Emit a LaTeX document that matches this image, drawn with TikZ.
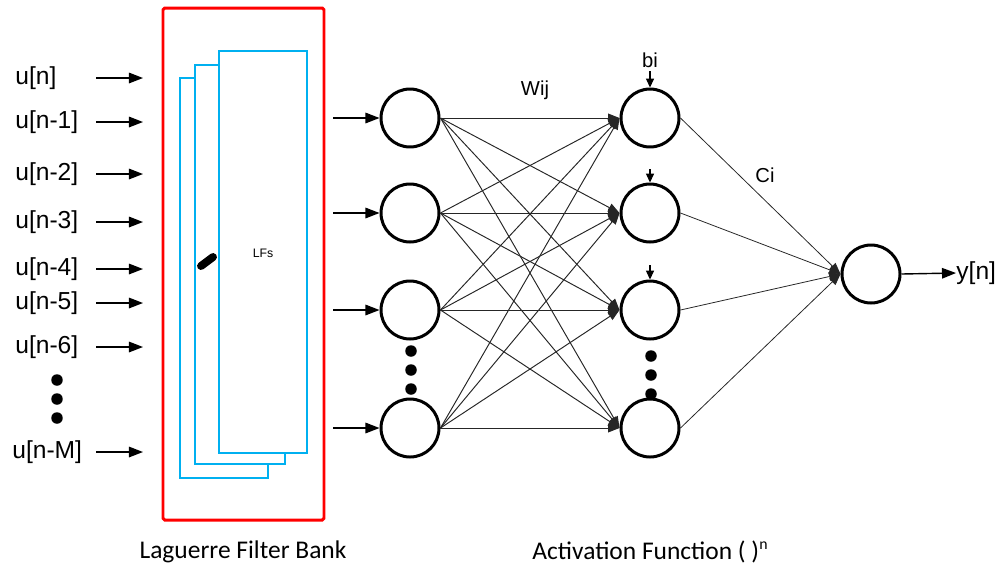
\documentclass[tikz,border=0pt]{standalone}
\usepackage{fontspec}
\setmainfont{Liberation Sans}
\newfontfamily\capfont{Carlito}
\usetikzlibrary{arrows.meta}

\definecolor{bankred}{RGB}{255,0,0}
\definecolor{filterblue}{RGB}{0,176,240}

\begin{document}
\begin{tikzpicture}[x=0.02cm,y=-0.02cm,
  neuron/.style={circle, draw=black, line width=1.7pt, minimum size=1.16cm, inner sep=0pt},
  inlabel/.style={anchor=west, inner sep=0pt, font=\fontsize{14}{16}\selectfont},
  inarrow/.style={line width=0.8pt, -{Triangle[length=8pt,width=6pt]}},
  link/.style={line width=0.55pt, draw=black!85, -{Triangle[length=6.5pt,width=5pt]}},
  biasarrow/.style={line width=0.6pt, -{Triangle[length=5pt,width=4.5pt]}},
  bigdot/.style={circle, fill=black, inner sep=0pt, minimum size=0.23cm},
  filter/.style={draw=filterblue, line width=1.2pt, fill=white},
  caption/.style={font=\capfont\fontsize{14.5}{16}\selectfont, inner sep=0pt},
  smalllabel/.style={font=\fontsize{11.5}{13}\selectfont, inner sep=0pt}]
\useasboundingbox (0,0) rectangle (1003,576);

% Laguerre filter bank
\draw[draw=bankred, line width=1.7pt, rounded corners=1pt] (163,8) rectangle (324,520);
\draw[filter] (180,78) rectangle (268,478);
\draw[filter] (195,65) rectangle (285,464);
\draw[filter] (219,51) rectangle (307,453);
\draw[line width=4.5pt, line cap=round] (201,266) -- (213,257);
\node[font=\fontsize{7}{8}\selectfont, inner sep=0pt] (lfs) at (263,253) {LFs};

% delayed input samples
\foreach \name/\txt/\y in {i0/{u[n]}/78, i1/{u[n-1]}/122, i2/{u[n-2]}/174, i3/{u[n-3]}/222,
                           i4/{u[n-4]}/269, i5/{u[n-5]}/303, i6/{u[n-6]}/347} {
  \node[inlabel] (\name) at (15,\y) {\txt};
  \coordinate (\name s) at (96,\y);
  \coordinate (\name e) at (143,\y);
  \draw[inarrow] (\name s) -- (\name e);
}
\node[inlabel] (iM) at (12,452) {u[n-M]};
\coordinate (iMs) at (96,452);
\coordinate (iMe) at (143,452);
\draw[inarrow] (iMs) -- (iMe);
\node[bigdot] (d1) at (57,380) {};
\node[bigdot] (d2) at (57,399) {};
\node[bigdot] (d3) at (57,418) {};

% first layer
\foreach \k/\y in {1/118, 2/213, 3/310, 4/428} {
  \node[neuron] (h\k) at (410,\y) {};
  \coordinate (f\k) at (333,\y);
  \draw[inarrow] (f\k) -- (h\k.west);
}
\node[bigdot] (hd1) at (411,351) {};
\node[bigdot] (hd2) at (411,370) {};
\node[bigdot] (hd3) at (411,389) {};

% activation layer
\foreach \k/\y in {1/118, 2/213, 3/310, 4/428} {
  \node[neuron] (a\k) at (650,\y) {};
}
\node[bigdot] (ad1) at (651,356) {};
\node[bigdot] (ad2) at (651,375) {};
\node[bigdot] (ad3) at (651,394) {};

% full connections with weights
\foreach \i in {1,...,4} {
  \foreach \j in {1,...,4} {
    \draw[link] (h\i.east) -- (a\j.west);
  }
}
\node[smalllabel] (w) at (535,90) {Wij};

% biases
\node[smalllabel] (b) at (650,60) {bi};
\coordinate (b1) at (650,71);
\coordinate (b2) at (650,169);
\coordinate (b3) at (650,265);
\draw[biasarrow] (b1) -- (a1.north);
\draw[biasarrow] (b2) -- (a2.north);
\draw[biasarrow] (b3) -- (a3.north);

% output neuron
\node[neuron] (out) at (871,274) {};
\foreach \k in {1,...,4} {
  \draw[link, line width=0.45pt] (a\k.east) -- (out.west);
}
\node[smalllabel] (c) at (765,175) {Ci};
\node[inlabel] (y) at (956,273) {y[n]};
\draw[inarrow] (out.east) -- (y.west);

% captions
\node[caption] (cap1) at (243,552) {Laguerre Filter Bank};
\node[caption] (cap2) at (650,552) {Activation Function ( )\raisebox{0.8ex}{\fontsize{9}{10}\selectfont n}};
\end{tikzpicture}
\end{document}
